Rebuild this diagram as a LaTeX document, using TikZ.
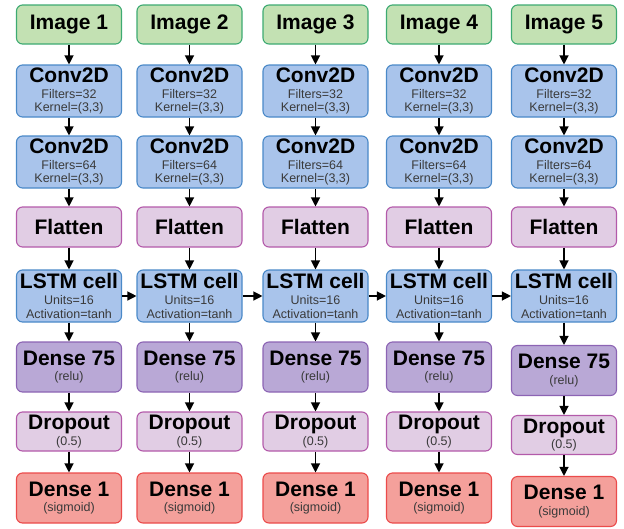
\documentclass[tikz,border=0pt]{standalone}
\usepackage{fontspec}
\setmainfont{Liberation Sans}
\usepackage{xcolor}
\usepackage{tikz}
\definecolor{imgfill}{HTML}{C3E1B3}
\definecolor{imgline}{HTML}{3DAA72}
\definecolor{convfill}{HTML}{A9C4EB}
\definecolor{convline}{HTML}{4A89C8}
\definecolor{flatfill}{HTML}{E1CDE4}
\definecolor{flatline}{HTML}{B35AAA}
\definecolor{densefill}{HTML}{B9A8D6}
\definecolor{denseline}{HTML}{8C64B4}
\definecolor{outfill}{HTML}{F4A09B}
\definecolor{outline}{HTML}{EB4B4B}
\definecolor{subtext}{HTML}{3A3A3A}
\usetikzlibrary{arrows.meta, positioning}
\newcommand{\titletext}[1]{{\color{black}\fontsize{21}{21}\selectfont\bfseries #1}}
\newcommand{\layertext}[2]{\titletext{#1}\\[2pt]#2}

\begin{document}
\begin{tikzpicture}[x=1pt, y=-1pt,
  layer/.style={rectangle, rounded corners=6pt, line width=1.1pt, minimum width=105pt,
    inner sep=0pt, align=center, text=subtext,
    font=\fontsize{12.5}{13.8}\selectfont},
  imgbox/.style={layer, fill=imgfill, draw=imgline, minimum height=39pt},
  convbox/.style={layer, fill=convfill, draw=convline, minimum height=52pt},
  flatbox/.style={layer, fill=flatfill, draw=flatline, minimum height=40pt},
  densebox/.style={layer, fill=densefill, draw=denseline, minimum height=50pt},
  dropbox/.style={layer, fill=flatfill, draw=flatline, minimum height=39pt},
  outbox/.style={layer, fill=outfill, draw=outline, minimum height=50pt},
  flow/.style={-{Triangle[length=9pt, width=9pt]}, line width=1.2pt, black}]
\useasboundingbox (0,0) rectangle (624,528);

% one column per time step
\foreach \c/\x/\d in {1/69/0, 2/189.5/0, 3/315.5/0, 4/439/0, 5/564/3.5} {
  \node[imgbox] (img\c) at (\x,24.5) {\titletext{Image \c}};
  \node[convbox] (convA\c) at (\x,91) {\layertext{Conv2D}{Filters=32\\Kernel=(3,3)}};
  \node[convbox] (convB\c) at (\x,162) {\layertext{Conv2D}{Filters=64\\Kernel=(3,3)}};
  \node[flatbox] (flat\c) at (\x,227) {\titletext{Flatten}};
  \node[convbox] (lstm\c) at (\x,296) {\layertext{LSTM cell}{Units=16\\Activation=tanh}};
  \node[densebox] (dense\c) at (\x,367+\d) {\layertext{Dense 75}{(relu)}};
  \node[dropbox] (drop\c) at (\x,431.5+\d) {\layertext{Dropout}{(0.5)}};
  \node[outbox] (out\c) at (\x,498+\d) {\layertext{Dense 1}{(sigmoid)}};
  \draw[flow] (img\c) -- (convA\c);
  \draw[flow] (convA\c) -- (convB\c);
  \draw[flow] (convB\c) -- (flat\c);
  \draw[flow] (flat\c) -- (lstm\c);
  \draw[flow] (lstm\c) -- (dense\c);
  \draw[flow] (dense\c) -- (drop\c);
  \draw[flow] (drop\c) -- (out\c);
}

% recurrent state
\foreach \c/\n in {1/2, 2/3, 3/4, 4/5}
  \draw[flow] (lstm\c) -- (lstm\n);
\end{tikzpicture}
\end{document}
